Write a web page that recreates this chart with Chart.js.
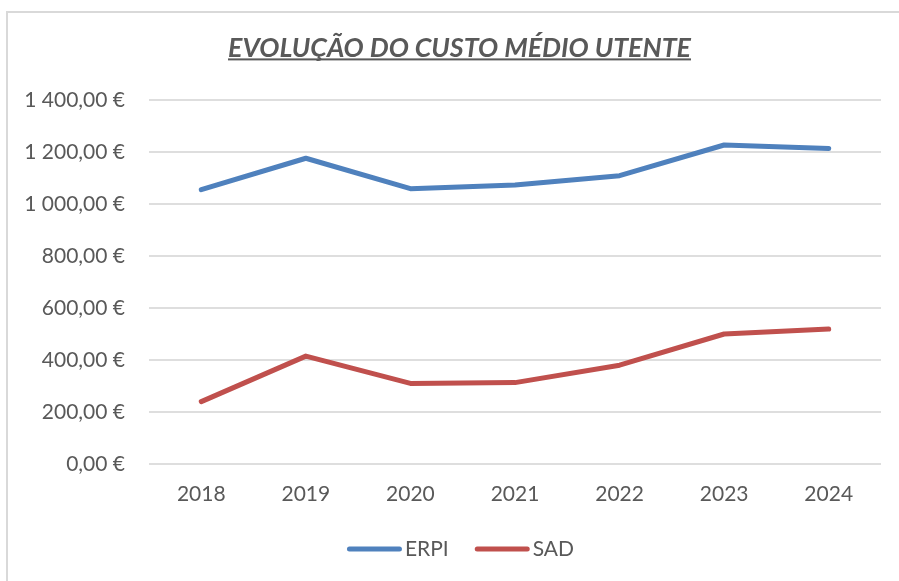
<!DOCTYPE html>
<html>
<head>
<meta charset="utf-8">
<script src="https://cdn.jsdelivr.net/npm/chart.js@4"></script>
<style>
  html, body { margin: 0; padding: 0; background: #fff; }
  canvas { display: block; }
</style>
</head>
<body>
<canvas id="c" width="899" height="581"></canvas>
<script>
// ---- data ----
const chartTitle = 'EVOLUÇÃO DO CUSTO MÉDIO UTENTE';
const years = ['2018', '2019', '2020', '2021', '2022', '2023', '2024'];
const erpiValues = [1055, 1176, 1059, 1073, 1109, 1227, 1213];
const sadValues = [240, 415, 310, 313, 380, 500, 519];
const seriesNames = ['ERPI', 'SAD'];
const yMin = 0, yMax = 1400, yStep = 200;

function formatEuro(v) {
  const parts = Number(v).toFixed(2).split('.');
  const intPart = parts[0].replace(/\B(?=(\d{3})+(?!\d))/g, ' ');
  return intPart + ',' + parts[1] + ' €';
}

const TEXT = '#595959';
const FONT = 'Lato';

const framePlugin = {
  id: 'frame',
  beforeDraw(chart) {
    const ctx = chart.ctx;
    ctx.save();
    ctx.fillStyle = '#ffffff';
    ctx.fillRect(0, 0, chart.width, chart.height);
    ctx.strokeStyle = '#d9d9d9';
    ctx.lineWidth = 2;
    ctx.beginPath();
    ctx.moveTo(7, chart.height + 5);
    ctx.lineTo(7, 12);
    ctx.lineTo(chart.width + 5, 12);
    ctx.stroke();
    ctx.restore();
  }
};

const titlePlugin = {
  id: 'ulTitle',
  afterDraw(chart) {
    const ctx = chart.ctx;
    ctx.save();
    ctx.font = 'italic bold 27px ' + FONT;
    ctx.fillStyle = TEXT;
    ctx.textAlign = 'center';
    ctx.textBaseline = 'alphabetic';
    const w = ctx.measureText(chartTitle).width;
    const targetW = 463;
    const sx = targetW / w;
    const cx = 459.5, base = 57.3;
    ctx.translate(cx, base);
    ctx.scale(sx, 1);
    ctx.fillText(chartTitle, 0, 0);
    ctx.setTransform(1, 0, 0, 1, 0, 0);
    ctx.fillRect(cx - targetW / 2, 58.4, targetW, 2);
    ctx.restore();
  }
};

const legendPlugin = {
  id: 'customLegend',
  afterDraw(chart) {
    const ctx = chart.ctx;
    ctx.save();
    ctx.font = '21px ' + FONT;
    ctx.textBaseline = 'middle';
    ctx.textAlign = 'left';
    const lineLen = 50, lw = 5, gap = 6, itemGap = 23;
    const items = chart.data.datasets.map(ds => ({
      label: ds.label, color: ds.borderColor, tw: ctx.measureText(ds.label).width
    }));
    const widths = items.map(it => lw + lineLen + gap + it.tw);
    const total = widths.reduce((a, b) => a + b, 0) + itemGap * (items.length - 1);
    let x = 462 - total / 2;
    const y = 549;
    items.forEach((it, i) => {
      ctx.strokeStyle = it.color;
      ctx.lineWidth = lw;
      ctx.lineCap = 'round';
      ctx.beginPath();
      ctx.moveTo(x + lw / 2, y);
      ctx.lineTo(x + lw / 2 + lineLen, y);
      ctx.stroke();
      ctx.fillStyle = TEXT;
      ctx.fillText(it.label, x + lw + lineLen + gap - 3, y);
      x += widths[i] + itemGap;
    });
    ctx.restore();
  }
};

new Chart(document.getElementById('c'), {
  type: 'line',
  data: {
    labels: years,
    datasets: [
      {
        label: seriesNames[0],
        data: erpiValues,
        borderColor: '#4F81BD',
        backgroundColor: '#4F81BD',
        borderWidth: 5,
        borderCapStyle: 'round',
        borderJoinStyle: 'round',
        pointRadius: 0,
        pointHoverRadius: 0,
        tension: 0,
        fill: false
      },
      {
        label: seriesNames[1],
        data: sadValues,
        borderColor: '#C0504D',
        backgroundColor: '#C0504D',
        borderWidth: 5,
        borderCapStyle: 'round',
        borderJoinStyle: 'round',
        pointRadius: 0,
        pointHoverRadius: 0,
        tension: 0,
        fill: false
      }
    ]
  },
  options: {
    responsive: false,
    animation: false,
    devicePixelRatio: 1,
    layout: { padding: { left: 10, right: 18, top: 100, bottom: 77 } },
    plugins: {
      legend: { display: false },
      title: { display: false },
      tooltip: { enabled: false }
    },
    scales: {
      x: {
        type: 'category',
        offset: true,
        grid: { display: false, drawTicks: false },
        border: { display: false },
        ticks: { color: TEXT, font: { family: FONT, size: 21 }, padding: 18, maxRotation: 0 },
        afterFit(scale) { scale.height = 40; }
      },
      y: {
        min: yMin,
        max: yMax,
        grid: { color: '#dedede', lineWidth: 2, drawTicks: false },
        border: { display: false },
        ticks: {
          stepSize: yStep,
          color: TEXT,
          font: { family: FONT, size: 21 },
          padding: 24,
          callback: (v) => formatEuro(v)
        },
        afterFit(scale) { scale.width = 139; }
      }
    }
  },
  plugins: [framePlugin, titlePlugin, legendPlugin]
});
</script>
</body>
</html>
